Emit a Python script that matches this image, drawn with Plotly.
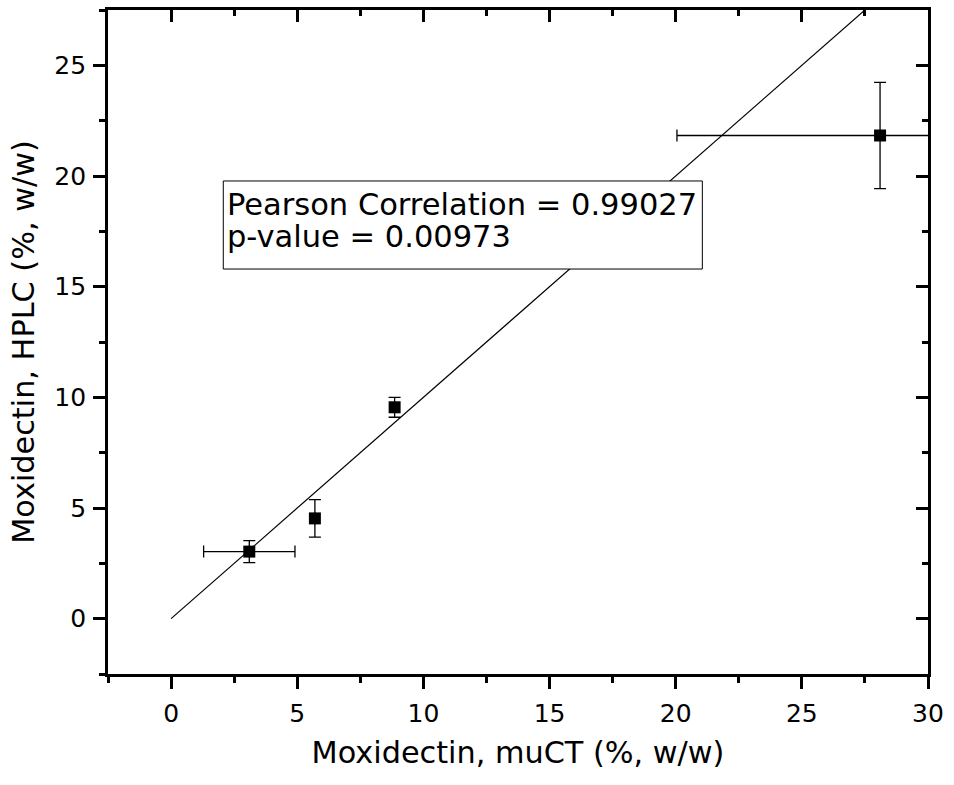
import plotly.graph_objects as go

# Data
mu_ct = [3.1, 5.7, 8.86, 28.1]          # Moxidectin, muCT (%, w/w)
hplc = [3.03, 4.53, 9.55, 21.83]        # Moxidectin, HPLC (%, w/w)
mu_ct_err = [1.81, 0.0, 0.0, 8.05]
hplc_err = [0.5, 0.85, 0.45, 2.4]

fit_x = [0, 30]
fit_y = [0, 30]

x_range = [-2.5, 30]
y_range = [-2.5, 27.5]
tick_vals = [0, 5, 10, 15, 20, 25, 30]

pearson_text = "Pearson Correlation = 0.99027"
pvalue_text = "p-value = 0.00973"

FONT = "DejaVu Sans, Liberation Sans, Arial, sans-serif"

fig = go.Figure()

fig.add_trace(go.Scatter(
    x=fit_x, y=fit_y, mode="lines",
    line=dict(color="black", width=1.2),
    showlegend=False, hoverinfo="skip",
))

fig.add_trace(go.Scatter(
    x=mu_ct, y=hplc, mode="markers",
    marker=dict(symbol="square", size=12, color="black"),
    error_x=dict(type="data", array=mu_ct_err, color="black", thickness=1.3, width=6),
    error_y=dict(type="data", array=hplc_err, color="black", thickness=1.3, width=6),
    showlegend=False,
))

# invisible trace to anchor mirrored top/right axes
fig.add_trace(go.Scatter(x=[None], y=[None], xaxis="x2", yaxis="y2",
                         showlegend=False, hoverinfo="skip"))

axis_common = dict(
    showgrid=False, zeroline=False, showline=True,
    linecolor="black", linewidth=2.7,
    tickcolor="black", tickwidth=2.5, ticklen=12,
    tickfont=dict(family=FONT, size=25, color="black"),
)

fig.update_layout(
    width=954, height=785,
    margin=dict(l=108, r=21, t=10, b=111),
    paper_bgcolor="white", plot_bgcolor="white",
    font=dict(family=FONT, color="black"),
    xaxis=dict(
        range=x_range, tickvals=tick_vals, ticks="outside",
        minor=dict(dtick=2.5, tick0=0, ticks="outside", ticklen=6,
                   tickwidth=2.5, tickcolor="black"),
        title=dict(text="Moxidectin, muCT (%, w/w)",
                   font=dict(family=FONT, size=30.3, color="black"), standoff=15),
        automargin=True,
        ticklabelstandoff=3,
        **axis_common,
    ),
    yaxis=dict(
        range=y_range, tickvals=tick_vals[:-1], ticks="outside",
        minor=dict(dtick=2.5, tick0=0, ticks="outside", ticklen=6,
                   tickwidth=2.5, tickcolor="black"),
        title=dict(text="Moxidectin, HPLC (%, w/w)",
                   font=dict(family=FONT, size=30.3, color="black"), standoff=11),
        automargin=True,
        ticklabelstandoff=2,
        **axis_common,
    ),
    xaxis2=dict(
        range=x_range, overlaying="x", side="top", matches="x",
        tickvals=tick_vals, ticks="inside", showticklabels=False,
        minor=dict(dtick=2.5, tick0=0, ticks="inside", ticklen=6,
                   tickwidth=2.5, tickcolor="black"),
        **axis_common,
    ),
    yaxis2=dict(
        range=y_range, overlaying="y", side="right", matches="y",
        tickvals=tick_vals[:-1], ticks="inside", showticklabels=False,
        minor=dict(dtick=2.5, tick0=0, ticks="inside", ticklen=6,
                   tickwidth=2.5, tickcolor="black"),
        **axis_common,
    ),
)

# text box: one annotation, tight line spacing via small base font + larger span
box_text = ('<span style="font-size:30.5px">' + pearson_text + '</span><br>'
            '<span style="font-size:30.5px">' + pvalue_text + '</span>')
fig.add_shape(type="rect", xref="x domain", yref="y domain",
              x0=0.1406, x1=0.7248, y0=0.6099, y1=0.7425,
              line=dict(color="black", width=1), fillcolor="white", layer="above")
fig.add_annotation(text=box_text, xref="x domain", yref="y domain",
                   x=0.1430, y=0.6825, xanchor="left", yanchor="middle",
                   align="left", showarrow=False,
                   font=dict(family=FONT, size=24.5, color="black"))

fig.write_html("out.html")
